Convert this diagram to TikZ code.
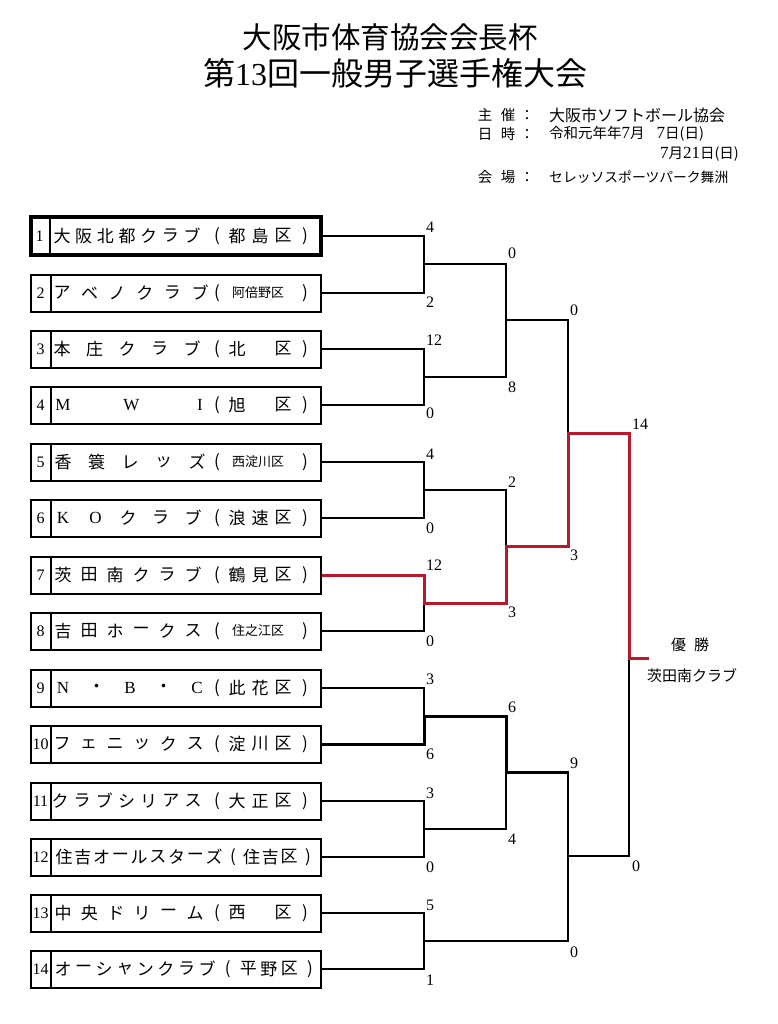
\documentclass[tikz,border=0pt]{standalone}
\usepackage{fontspec}
\setmainfont{Liberation Serif}
\newfontfamily\jp{Noto Sans CJK JP}
\newcommand\latn{\rmfamily}
\newcommand\mylp{(}
\newcommand\myrp{)}
\definecolor{winred}{RGB}{185,25,45}
\tikzset{
  box/.style={draw, line width=2pt, minimum width=290pt, minimum height=37pt, inner sep=0pt},
  boxthick/.style={box, line width=4pt},
  divline/.style={line width=2pt},
  num/.style={font=\fontsize{16}{16}\selectfont, inner sep=0pt},
  ch/.style={font=\jp\fontsize{17}{17}\selectfont, inner sep=0pt},
  chs/.style={font=\jp\fontsize{13}{13}\selectfont, inner sep=0pt},
  score/.style={font=\fontsize{16}{16}\selectfont, inner sep=0pt, anchor=west},
  info/.style={font=\jp\fontsize{14.5}{15}\selectfont, inner sep=0pt},
  link/.style={line width=1.3pt},
  boldlink/.style={line width=3pt},
  redlink/.style={line width=3pt, draw=winred},
}
\newcommand\spreadrow[5]{%
  \foreach \c [count=\k] in {#5} {\xdef\spreadn{\k}}%
  \foreach \c [count=\k from 0] in {#5} {%
    \node[ch] (#1-\k) at ({#3+(#4-#3)*\k/(\spreadn-1)}, #2) {\c};}%
}
\newcommand\teambox[4][box]{%
  \node[#1] (t#2) at (176,#3) {};
  \draw[divline] ([xshift=21pt]t#2.north west) -- ([xshift=21pt]t#2.south west);
  \node[num] (n#2) at ([xshift=10.5pt]t#2.west) {#4};
}
\newcommand\parens[2]{%
  \node[ch] (lp#1) at (217,#2) {(};
  \node[ch] (rp#1) at (305,#2) {)};
}
\newcommand\distc[5]{%
  \node[ch] (d#1a) at (237,#2) {#3};
  \node[ch] (d#1b) at (260,#2) {#4};
  \node[ch] (d#1c) at (283,#2) {#5};
}
\newcommand\distb[4]{%
  \node[ch] (d#1a) at (237,#2) {#3};
  \node[ch] (d#1c) at (283,#2) {#4};
}
\newcommand\dists[3]{%
  \node[chs] (d#1) at (258,#2) {#3};
}
\begin{document}
\begin{tikzpicture}[x=1pt,y=-1pt]
\useasboundingbox (0,0) rectangle (777,1024);

% titles
\node[font=\jp\fontsize{29.5}{30}\selectfont, inner sep=0pt] (title1) at (390,37) {大阪市体育協会会長杯};
\node[font=\jp\fontsize{32}{32}\selectfont, inner sep=0pt] (title2) at (395,73) {第{\latn 13}回一般男子選手権大会};

% info block
\node[info] (i1a) at (485,115) {主};
\node[info] (i1b) at (508,115) {催};
\node[info] (i1c) at (527,115) {：};
\node[info, anchor=west, font=\jp\fontsize{16}{16}\selectfont] (i1d) at (549,115) {大阪市ソフトボール協会};
\node[info] (i2a) at (485,134) {日};
\node[info] (i2b) at (508,134) {時};
\node[info] (i2c) at (527,134) {：};
\node[info, anchor=west] (i2d) at (549,134) {令和元年年{\latn\fontsize{17}{17}\selectfont 7}月\hspace{12pt}{\latn\fontsize{17}{17}\selectfont 7}日(日)};
\node[info, anchor=east] (i3d) at (739,154) {{\latn\fontsize{17}{17}\selectfont 7}月{\latn\fontsize{17}{17}\selectfont 21}日(日)};
\node[info] (i4a) at (485,177) {会};
\node[info] (i4b) at (508,177) {場};
\node[info] (i4c) at (527,177) {：};
\node[info, anchor=west, font=\jp\fontsize{13.8}{14}\selectfont] (i4d) at (549,177) {セレッソスポーツパーク舞洲};

% team boxes
\teambox[boxthick]{1}{236}{1}
\spreadrow{a1}{236}{62}{192}{大,阪,北,都,ク,ラ,ブ}
\parens{1}{236}\distc{1}{236}{都}{島}{区}

\teambox{2}{293}{2}
\spreadrow{a2}{293}{62}{200}{ア,ベ,ノ,ク,ラ,ブ}
\parens{2}{293}\dists{2}{293}{阿倍野区}

\teambox{3}{349}{3}
\spreadrow{a3}{349}{62}{192}{本,庄,ク,ラ,ブ}
\parens{3}{349}\distb{3}{349}{北}{区}

\teambox{4}{405}{4}
\spreadrow{a4}{405}{63}{200}{{\latn M},{\latn W},{\latn I}}
\parens{4}{405}\distb{4}{405}{旭}{区}

\teambox{5}{462}{5}
\spreadrow{a5}{462}{63}{197}{香,簑,レ,ッ,ズ}
\parens{5}{462}\dists{5}{462}{西淀川区}

\teambox{6}{518}{6}
\spreadrow{a6}{518}{63}{193}{{\latn K},{\latn O},ク,ラ,ブ}
\parens{6}{518}\distc{6}{518}{浪}{速}{区}

\teambox{7}{575}{7}
\spreadrow{a7}{575}{63}{193}{茨,田,南,ク,ラ,ブ}
\parens{7}{575}\distc{7}{575}{鶴}{見}{区}

\teambox{8}{631}{8}
\spreadrow{a8}{631}{63}{193}{吉,田,ホ,ー,ク,ス}
\parens{8}{631}\dists{8}{631}{住之江区}

\teambox{9}{688}{9}
\spreadrow{a9}{688}{63}{197}{{\latn N},・,{\latn B},・,{\latn C}}
\parens{9}{688}\distc{9}{688}{此}{花}{区}

\teambox{10}{744}{10}
\spreadrow{a10}{744}{62}{195}{フ,ェ,ニ,ッ,ク,ス}
\parens{10}{744}\distc{10}{744}{淀}{川}{区}

\teambox{11}{801}{11}
\spreadrow{a11}{801}{60}{193}{ク,ラ,ブ,シ,リ,ア,ス}
\parens{11}{801}\distc{11}{801}{大}{正}{区}

\teambox{12}{857}{12}
\spreadrow{a12}{857}{64}{308}{住,吉,オ,ー,ル,ス,タ,ー,ズ,\mylp,住,吉,区,\myrp}

\teambox{13}{913}{13}
\spreadrow{a13}{913}{63}{195}{中,央,ド,リ,ー,ム}
\parens{13}{913}\distb{13}{913}{西}{区}

\teambox{14}{969}{14}
\spreadrow{a14}{969}{63}{310}{オ,ー,シ,ャ,ン,ク,ラ,ブ,\mylp,平,野,区,\myrp}

% bracket points
\coordinate (m1) at (424,264);
\coordinate (m2) at (424,377);
\coordinate (m3) at (424,490);
\coordinate (m4) at (424,603);
\coordinate (m5) at (424,716);
\coordinate (m6) at (424,829);
\coordinate (m7) at (424,941);
\coordinate (q1) at (506,320);
\coordinate (q2) at (506,546);
\coordinate (q3) at (506,772);
\coordinate (s1) at (568,433);
\coordinate (s2) at (568,856);
\coordinate (f) at (629,658);
\coordinate (w) at (649,658);

% thin connectors
\foreach \a/\b in {t1/m1,t2/m1,t3/m2,t4/m2,t5/m3,t6/m3,t8/m4,t9/m5,t11/m6,t12/m6,t13/m7,t14/m7}
  \draw[link] (\a.east) -| (\b);
\foreach \a/\b in {m1/q1,m2/q1,m3/q2,m6/q3,q1/s1,m7/s2,s2/f,q3/s2}
  \draw[link] (\a) -| (\b);

% bold path
\draw[boldlink] (t10.east) -| (m5) -| (q3) -- (q3 -| s2);

% winner path
\draw[redlink] (t7.east) -| (m4) -| (q2) -| (s1) -| (f) -- (w);

% scores
\foreach \x/\y/\v [count=\i] in {
  426/227/4, 426/302/2, 426/340/12, 426/413/0, 426/454/4, 426/528/0, 426/565/12,
  426/641/0, 426/679/3, 426/754/6, 426/793/3, 426/867/0, 426/905/5, 426/980/1,
  508/253/0, 508/387/8, 508/482/2, 508/612/3, 508/707/6, 508/839/4,
  570/310/0, 570/555/3, 570/763/9, 570/952/0,
  632/424/14, 632/866/0}
  \node[score] (sc\i) at (\x,\y) {\v};

% champion
\node[info, font=\jp\fontsize{15}{15}\selectfont] (champ) at (690,645) {優\hspace{8pt}勝};
\node[info, font=\jp\fontsize{15}{15}\selectfont] (champname) at (692,676) {茨田南クラブ};
\end{tikzpicture}
\end{document}
